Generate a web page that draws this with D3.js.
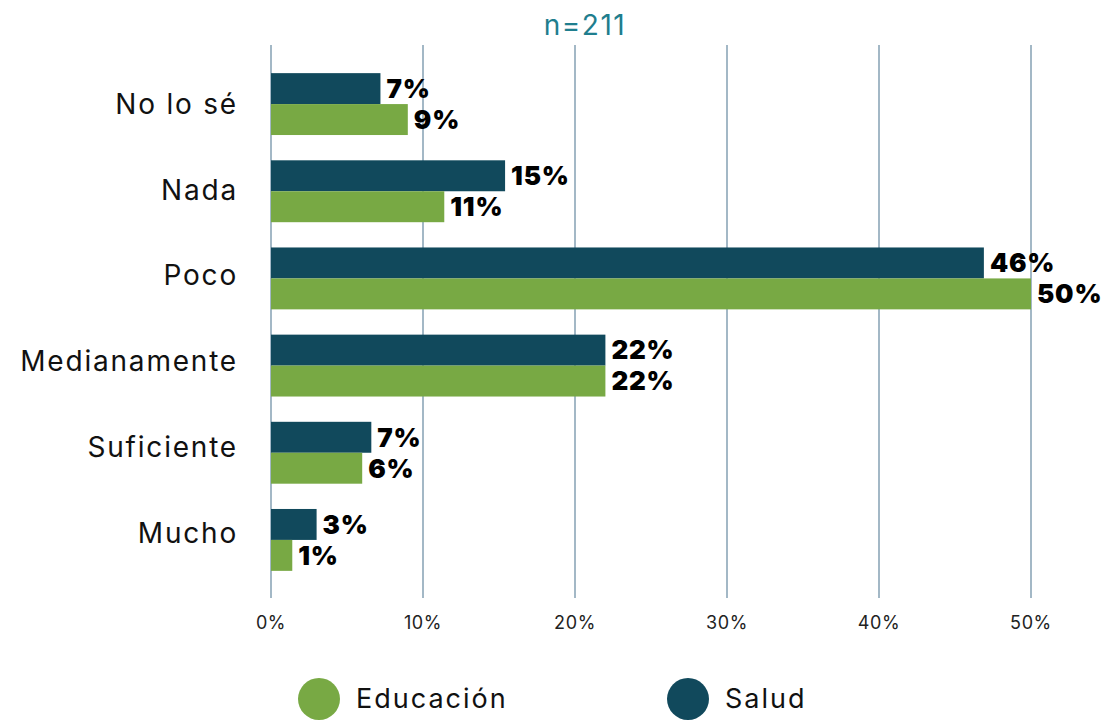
<!DOCTYPE html>
<html>
<head>
<meta charset="utf-8">
<script src="https://cdn.jsdelivr.net/npm/d3@7"></script>
<style>
  body { margin: 0; background: #fff; }
  text { font-family: Inter, "Open Sans", sans-serif; }
</style>
</head>
<body>
<div id="chart"></div>
<script>
var categories = ["No lo sé", "Nada", "Poco", "Medianamente", "Suficiente", "Mucho"];
var salud = [7.2, 15.4, 46.9, 22.0, 6.6, 3.0];
var educacion = [9.0, 11.4, 50.0, 22.0, 6.0, 1.4];
var saludLabels = ["7%", "15%", "46%", "22%", "7%", "3%"];
var educacionLabels = ["9%", "11%", "50%", "22%", "6%", "1%"];
var ticks = [0, 10, 20, 30, 40, 50];
var series = ["Educación", "Salud"];

var W = 1105, H = 720;
var colSalud = "#11495c", colEdu = "#78a944";

var svg = d3.select("#chart").append("svg")
  .attr("width", W)
  .attr("height", H);

var x = d3.scaleLinear().domain([0, 50]).range([271, 1031]);
var y = d3.scaleBand().domain(categories).range([60.5, 583.5]).paddingInner(0.29).paddingOuter(0.145);
// category text sits a little higher than the bar pairs further down
var yLabel = d3.scalePoint().domain(categories).range([104, 533]);

// title
svg.append("text")
  .attr("x", 585).attr("y", 35)
  .attr("text-anchor", "middle")
  .style("font-size", "28px")
  .style("letter-spacing", "1.5px")
  .style("fill", "#1f7e8e")
  .text("n=211");

// grid lines
svg.append("g").selectAll("line")
  .data(ticks)
  .enter().append("line")
  .attr("x1", function(d){ return x(d); })
  .attr("x2", function(d){ return x(d); })
  .attr("y1", 45).attr("y2", 598)
  .style("stroke", "#a3b8c6")
  .style("stroke-width", 2);

// tick labels
svg.append("g").selectAll("text")
  .data(ticks)
  .enter().append("text")
  .attr("x", function(d){ return x(d); })
  .attr("y", 629)
  .attr("text-anchor", "middle")
  .style("font-size", "18px")
  .style("letter-spacing", "0.6px")
  .style("fill", "#222")
  .text(function(d){ return d + "%"; });

// category labels
svg.append("g").selectAll("text")
  .data(categories)
  .enter().append("text")
  .attr("x", 238)
  .attr("y", function(d){ return yLabel(d); })
  .attr("dy", "0.35em")
  .attr("text-anchor", "end")
  .style("font-size", "28px")
  .style("letter-spacing", "1.8px")
  .style("fill", "#111")
  .text(function(d){ return d; });

var half = y.bandwidth() / 2;

function drawSeries(vals, labels, color, offset){
  var g = svg.append("g");
  g.selectAll("rect")
    .data(vals)
    .enter().append("rect")
    .attr("x", x(0))
    .attr("y", function(d, i){ return y(categories[i]) + offset; })
    .attr("width", function(d){ return x(d) - x(0); })
    .attr("height", half)
    .style("fill", color);
  g.selectAll("text")
    .data(vals)
    .enter().append("text")
    .attr("x", function(d){ return x(d) + 6; })
    .attr("y", function(d, i){ return y(categories[i]) + offset + half / 2; })
    .attr("dy", "0.36em")
    .style("font-size", "26px")
    .style("font-weight", 900)
    .style("letter-spacing", "0.8px")
    .style("fill", "#000")
    .text(function(d, i){ return labels[i]; });
}

drawSeries(salud, saludLabels, colSalud, 0);
drawSeries(educacion, educacionLabels, colEdu, half);

// legend
var legend = svg.append("g");
var legendX = [319, 688];
var legendCol = [colEdu, colSalud];
legend.selectAll("circle")
  .data(series)
  .enter().append("circle")
  .attr("cx", function(d, i){ return legendX[i]; })
  .attr("cy", 699)
  .attr("r", 21)
  .style("fill", function(d, i){ return legendCol[i]; });
legend.selectAll("text")
  .data(series)
  .enter().append("text")
  .attr("x", function(d, i){ return legendX[i] + 37; })
  .attr("y", 699)
  .attr("dy", "0.35em")
  .style("font-size", "27px")
  .style("letter-spacing", "2px")
  .style("fill", "#111")
  .text(function(d){ return d; });
</script>
</body>
</html>
